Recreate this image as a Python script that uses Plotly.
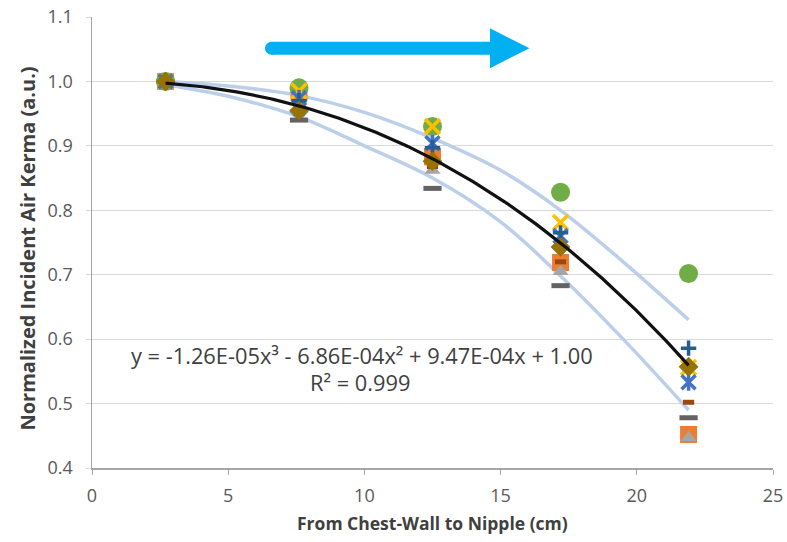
import numpy as np
import plotly.graph_objects as go

# ---- data ----
x_pos = [2.7, 7.6, 12.5, 17.2, 21.9]

s_blue_diamond = [1.000, 0.953, 0.876, 0.743, 0.557]
s_orange_square = [1.000, 0.983, 0.883, 0.719, 0.452]
s_gray_triangle = [1.000, 0.955, 0.862, 0.705, 0.447]
s_gold_x = [1.000, 0.985, 0.930, 0.781, 0.556]
s_blue_star = [1.000, 0.974, 0.904, 0.760, 0.533]
s_green_circle = [1.000, 0.990, 0.930, 0.828, 0.702]
s_navy_plus = [1.000, 0.970, 0.897, 0.765, 0.586]
s_rust_dash = [1.000, 0.950, 0.868, 0.720, 0.502]
s_dgray_dash = [1.000, 0.940, 0.834, 0.683, 0.478]
s_gold_diamond = [1.000, 0.955, 0.876, 0.743, 0.557]

# trendline coefficients (as printed on chart): x^3, x^2, x, const
fit_coefs = [-1.26e-05, -6.86e-04, 9.47e-04, 1.00]

# light-blue band curves
band_x = [2.7, 5.0, 7.6, 10.0, 12.5, 15.0, 17.2, 19.5, 21.9]
band_upper = [1.000, 0.993, 0.978, 0.952, 0.912, 0.862, 0.800, 0.720, 0.630]
band_lower = [0.995, 0.977, 0.945, 0.900, 0.850, 0.782, 0.698, 0.600, 0.490]

x_ticks = [0, 5, 10, 15, 20, 25]
y_ticks = [0.4, 0.5, 0.6, 0.7, 0.8, 0.9, 1.0, 1.1]

FONT = "Open Sans"
fig = go.Figure()

# bands
for yb in (band_upper, band_lower):
    fig.add_trace(go.Scatter(x=band_x, y=yb, mode="lines",
                             line=dict(color="#bccfea", width=3.5, shape="spline"),
                             hoverinfo="skip", showlegend=False))

series = [
    (s_blue_diamond, "diamond", "#5B9BD5", 15, 0),
    (s_orange_square, "square", "#ED7D31", 17, 0),
    (s_gray_triangle, "triangle-up", "#A5A5A5", 14, 0),
    (s_rust_dash, "line-ew", "#9E480E", 8, 5),
    (s_dgray_dash, "line-ew", "#636363", 13, 5),
    (s_green_circle, "circle", "#70AD47", 19, 0),
    (s_gold_x, "x-thin", "#FFC000", 15, 3.5),
    (s_blue_star, "x-thin", "#4472C4", 14, 3.5),
    (s_blue_star, "line-ns", "#4472C4", 12, 3.5),
    (s_navy_plus, "cross-thin", "#255E91", 11, 3.5),
    (s_gold_diamond, "diamond", "#997300", 15, 0),
]
for ys, sym, col, sz, lw in series:
    if lw:
        mk = dict(symbol=sym, size=sz, color=col, line=dict(color=col, width=lw))
    else:
        mk = dict(symbol=sym, size=sz, color=col, line=dict(width=0))
    fig.add_trace(go.Scatter(x=x_pos, y=ys, mode="markers", marker=mk,
                             showlegend=False))

# trendline
xf = np.linspace(x_pos[0], x_pos[-1], 200)
fig.add_trace(go.Scatter(x=xf, y=np.polyval(fit_coefs, xf), mode="lines",
                         line=dict(color="#111111", width=3.2), showlegend=False))

# arrow (annotation graphic)
ac = "#00B0F0"
fig.add_shape(type="line", x0=6.59, x1=14.7, y0=1.0515, y1=1.0515,
              line=dict(color=ac, width=13))
fig.add_shape(type="circle", x0=6.59 - 0.239, x1=6.59 + 0.239,
              y0=1.0515 - 0.0101, y1=1.0515 + 0.0101,
              fillcolor=ac, line=dict(width=0))
fig.add_shape(type="path", path="M 14.61 1.0825 L 16.06 1.0515 L 14.61 1.0205 Z",
              fillcolor=ac, line=dict(width=0))

fig.add_annotation(x=9.93, y=0.5744, xref="x", yref="y", showarrow=False,
                   xanchor="center", yanchor="middle",
                   text="y = -1.26E-05x³ - 6.86E-04x² + 9.47E-04x + 1.00",
                   font=dict(family=FONT, size=21.8, color="#404040"))
fig.add_annotation(x=9.84, y=0.5326, xref="x", yref="y", showarrow=False,
                   xanchor="center", yanchor="middle",
                   text="R² = 0.999",
                   font=dict(family=FONT, size=21.8, color="#404040"))

# axis titles
fig.add_annotation(x=0.5, y=-0.122, xref="paper", yref="paper", showarrow=False,
                   xanchor="center", yanchor="middle",
                   text="<b>From Chest-Wall to Nipple (cm)</b>",
                   font=dict(family=FONT, size=17.5, color="#404040"))
fig.add_annotation(x=-0.0954, y=0.4867, xref="paper", yref="paper", showarrow=False,
                   xanchor="center", yanchor="middle",
                   text="<b>Normalized Incident Air Kerma (a.u.)</b>", textangle=-90,
                   font=dict(family=FONT, size=20, color="#404040"))

fig.update_layout(
    width=787, height=542,
    margin=dict(l=92, r=14, t=17, b=74),
    paper_bgcolor="white", plot_bgcolor="white",
    font=dict(family=FONT, color="#595959"),
    hovermode=False,
)
fig.update_xaxes(range=[0, 25], tickvals=x_ticks, showgrid=False,
                 showline=True, linecolor="#a6a6a6", linewidth=1.5,
                 ticks="outside", ticklen=5, tickcolor="#a6a6a6",
                 ticklabelstandoff=6, ticklabeloverflow="allow",
                 tickfont=dict(size=18, color="#595959"), zeroline=False,
                 automargin=False)
fig.update_yaxes(range=[0.4, 1.1], tickvals=y_ticks, tickformat=".1f",
                 showgrid=True, gridcolor="#d9d9d9", gridwidth=1,
                 showline=True, linecolor="#a6a6a6", linewidth=1.5,
                 ticks="outside", ticklen=5, tickcolor="#d9d9d9",
                 ticklabelstandoff=9, ticklabeloverflow="allow",
                 tickfont=dict(size=18, color="#595959"), zeroline=False,
                 automargin=False)

# remove the page's default body margin so the figure fills the window exactly
fig.write_html("out.html",
               config={"displayModeBar": False, "staticPlot": True},
               post_script="document.body.style.margin='0';"
                           "document.body.style.overflow='hidden';")
